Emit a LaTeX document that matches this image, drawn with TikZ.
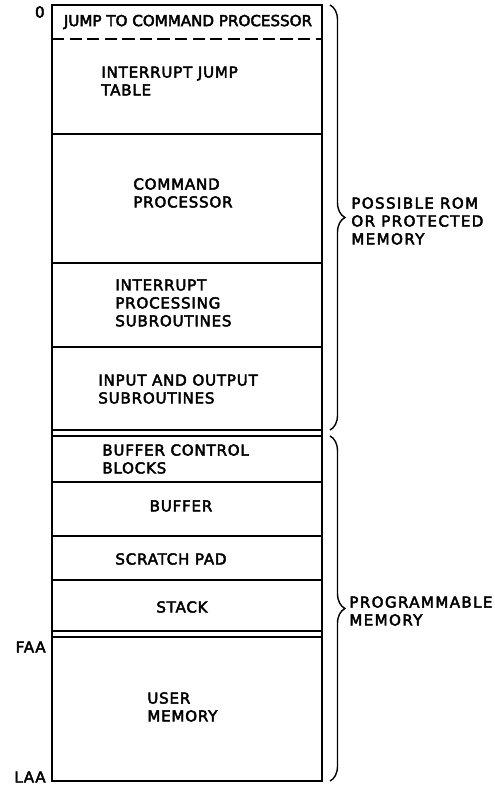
\documentclass[tikz,border=0pt]{standalone}
\usepackage{fontspec}
\setmainfont{DejaVu Sans}[FakeBold=3]
\newfontfamily\memfont{DejaVu Sans}[LetterSpace=5,FakeBold=3]
\newfontfamily\sidefont{DejaVu Sans}[LetterSpace=9,FakeBold=3]
\usetikzlibrary{decorations.pathreplacing}

\begin{document}
\begin{tikzpicture}[x=0.02cm,y=-0.02cm,
  wall/.style={line width=1.1pt},
  memtext/.style={font=\memfont\fontsize{8.6}{10.2}\selectfont,align=left,inner sep=0pt},
  sidetext/.style={font=\sidefont\fontsize{8.6}{10.2}\selectfont,align=left,inner sep=0pt,anchor=west},
  curly/.style={line width=0.8pt,decorate,decoration={brace,amplitude=0.3cm}}]
\useasboundingbox (0,0) rectangle (494,787);
\draw[wall] (52,5) rectangle (322,781);
\draw[wall,dash pattern=on 7pt off 3pt] (52,39)--(322,39);
\foreach \y in {134,263,347,430,436,482,536,580,631,637}
  \draw[wall] (52,\y)--(322,\y);
\node[memtext,font=\fontsize{8.6}{10.2}\selectfont] (jump) at (188,22) {JUMP TO COMMAND PROCESSOR};
\node[memtext,anchor=west] (itable) at (101,81) {INTERRUPT JUMP\\TABLE};
\node[memtext,anchor=west] (cmdproc) at (133,193) {COMMAND\\PROCESSOR};
\node[memtext,anchor=west] (intsub) at (115,303) {INTERRUPT\\PROCESSING\\SUBROUTINES};
\node[memtext,anchor=west] (iosub) at (98,389) {INPUT AND OUTPUT\\SUBROUTINES};
\node[memtext,anchor=west] (bcb) at (102,459) {BUFFER CONTROL\\BLOCKS};
\node[memtext] (buffer) at (181,506) {BUFFER};
\node[memtext] (scratch) at (171,559) {SCRATCH PAD};
\node[memtext] (stack) at (182,607) {STACK};
\node[memtext,anchor=west] (user) at (147,707) {USER\\MEMORY};
\node[memtext,anchor=east] (zero) at (45,12) {0};
\node[memtext,anchor=east] (faa) at (46,647) {FAA};
\node[memtext,anchor=east] (laa) at (46,777) {LAA};
\coordinate (romtop) at (330,5);
\coordinate (rombot) at (330,430);
\coordinate (progtop) at (330,436);
\coordinate (progbot) at (330,781);
\draw[curly] (romtop) -- (rombot);
\draw[curly] (progtop) -- (progbot);
\node[sidetext] (rom) at (351,221) {POSSIBLE ROM\\OR PROTECTED\\MEMORY};
\node[sidetext] (prog) at (349,611) {PROGRAMMABLE\\MEMORY};
\end{tikzpicture}
\end{document}
